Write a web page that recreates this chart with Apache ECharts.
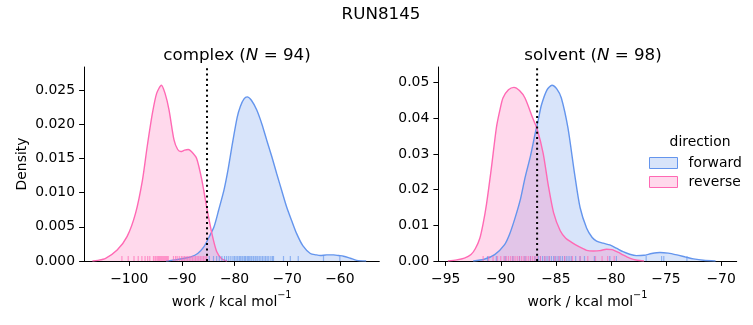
<!DOCTYPE html>
<html><head><meta charset="utf-8">
<script src="https://cdn.jsdelivr.net/npm/echarts@6/dist/echarts.min.js"></script>
<style>html,body{margin:0;padding:0;background:#fff}#c{width:753px;height:325px}</style>
</head><body><div id="c"></div>
<script>
// ---- data ----
const suptitle = 'RUN8145';
const complexN = 94;
const solventN = 98;
const directions = ['forward', 'reverse'];

// KDE curves: [work, density]
const complexForwardKde = [[-93,0],[-91,0.0002],[-89.5,0.0004],[-88.3,0.0006],[-87,0.0011],[-85.8,0.0021],[-84.9,0.0034],[-83.9,0.0050],[-83,0.0075],[-82,0.0104],[-81.2,0.0135],[-80.4,0.0172],[-79.5,0.0210],[-78.9,0.0226],[-78.2,0.0237],[-77.6,0.0240],[-76.8,0.0235],[-75.8,0.0221],[-74.8,0.0200],[-73.9,0.0177],[-72.9,0.0152],[-72.0,0.0128],[-71.0,0.0102],[-70.1,0.0079],[-69.1,0.0058],[-68.2,0.0040],[-67,0.0022],[-65.6,0.0011],[-64.5,0.0009],[-63.7,0.0008],[-62.5,0.0009],[-61.2,0.0009],[-60.2,0.0008],[-59.3,0.0007],[-58,0.0004],[-56.8,0.0001],[-55,0]];
const complexReverseKde = [[-107,0],[-106,0.0001],[-104.5,0.0004],[-102.3,0.0016],[-100.4,0.0036],[-98.8,0.0070],[-97.5,0.0118],[-96.6,0.0167],[-95.6,0.0216],[-94.8,0.0245],[-93.9,0.0257],[-93.2,0.0245],[-92.45,0.0221],[-91.5,0.0177],[-90.8,0.0163],[-90.2,0.0160],[-89.5,0.0162],[-88.8,0.0163],[-88.2,0.0160],[-87.2,0.0150],[-86.2,0.0118],[-85.3,0.0079],[-84.3,0.0040],[-83.4,0.0014],[-82.4,0.0003],[-81.4,0]];
const solventForwardKde = [[-92.5,0],[-91.5,0.0005],[-90.55,0.0018],[-89.65,0.0046],[-89.2,0.0075],[-88.7,0.0121],[-88.2,0.0175],[-87.8,0.0233],[-87.3,0.0295],[-86.9,0.0354],[-86.6,0.0395],[-86.3,0.0438],[-85.8,0.0480],[-85.35,0.0493],[-84.9,0.0482],[-84.5,0.0457],[-83.9,0.0373],[-83.3,0.0245],[-82.8,0.0150],[-82.2,0.0092],[-81.7,0.0066],[-81.3,0.0056],[-80.7,0.0050],[-80.1,0.0045],[-79.5,0.0036],[-78.9,0.0026],[-78.3,0.0019],[-77.7,0.0015],[-77.0,0.0016],[-76.3,0.0021],[-75.55,0.0024],[-74.8,0.0022],[-74.0,0.0017],[-73.2,0.0011],[-72.5,0.0006],[-71.6,0.0002],[-70.5,0]];
const solventReverseKde = [[-94.8,0],[-94,0.0003],[-93.3,0.0008],[-92.7,0.0018],[-92.3,0.0035],[-91.9,0.0064],[-91.6,0.0105],[-91.3,0.0158],[-90.85,0.0261],[-90.4,0.0373],[-90.1,0.0420],[-89.8,0.0457],[-89.3,0.0480],[-88.8,0.0487],[-88.3,0.0478],[-87.8,0.0457],[-87.1,0.0401],[-86.7,0.0370],[-86.15,0.0302],[-85.7,0.0215],[-85.2,0.0135],[-84.6,0.0085],[-84.1,0.0064],[-83.6,0.0053],[-82.9,0.0040],[-82.2,0.0030],[-81.6,0.0028],[-81.0,0.0029],[-80.4,0.0033],[-79.9,0.0032],[-79.3,0.0024],[-78.9,0.0017],[-78.3,0.0008],[-77.6,0.0002],[-77,0]];

// rug (individual work values)
const complexForwardRug = [-84.8,-84.0,-83.4,-82.9,-82.4,-81.9,-81.5,-81.1,-80.7,-80.3,-80.0,-79.7,-79.4,-79.1,-78.9,-78.6,-78.4,-78.1,-77.9,-77.6,-77.4,-77.2,-76.9,-76.7,-76.4,-76.1,-75.9,-75.6,-75.3,-75.0,-74.7,-74.4,-74.1,-73.8,-73.5,-73.1,-72.8,-72.6,-70.7,-69.4,-67.9,-63.1,-60.0];
const complexReverseRug = [-101.4,-100.2,-99.1,-98.3,-97.6,-97.0,-96.5,-96.1,-95.4,-95.1,-94.9,-94.6,-94.4,-94.2,-94.0,-93.8,-93.6,-93.4,-93.2,-93.0,-92.8,-92.6,-91.6,-91.2,-90.9,-90.5,-90.1,-89.8,-89.5,-89.2,-88.9,-88.6,-88.3,-88.0,-87.7,-87.4,-87.1,-86.8,-86.5,-86.2,-85.9,-85.6,-85.3];
const solventForwardRug = [-91.2,-90.4,-89.6,-88.9,-88.3,-87.8,-87.3,-86.9,-86.6,-86.4,-86.2,-86.0,-85.8,-85.6,-85.4,-85.2,-85.0,-84.8,-84.6,-84.4,-84.2,-84.0,-83.8,-83.6,-83.2,-82.8,-82.4,-81.5,-80.1,-79.5,-76.8,-75.4,-75.2,-73.1];
const solventReverseRug = [-91.6,-91.1,-90.7,-90.3,-90.0,-89.7,-89.5,-89.3,-89.1,-88.9,-88.7,-88.5,-88.3,-88.1,-87.9,-87.7,-87.5,-87.3,-87.1,-86.9,-86.7,-86.4,-86.0,-85.6,-85.1,-84.7,-84.2,-83.5,-82.8,-82.1,-81.4,-80.8,-80.3,-79.7];

// vertical dotted markers
const complexMarker = -85.23;
const solventMarker = -86.7;

// ticks
const complexXTicks = [-100,-90,-80,-70,-60];
const complexYTicks = [0,0.005,0.010,0.015,0.020,0.025];
const solventXTicks = [-95,-90,-85,-80,-75,-70];
const solventYTicks = [0,0.01,0.02,0.03,0.04,0.05];

// ---- drawing ----
const FONT = 'DejaVu Sans';
const BLUE = '#6495ED', PINK = '#FF69B4';
const minus = v => String(v).replace('-', '\u2212');
const chart = echarts.init(document.getElementById('c'), null, {renderer: 'canvas'});

const limits = {
  complex: {x: [-108.6, -52.5], y: [0, 0.02836]},
  solvent: {x: [-95.67, -68.58], y: [0, 0.0544]}
};

function xAxis(idx, lim, ticks) {
  return {
    type: 'value', gridIndex: idx, min: lim[0], max: lim[1],
    axisLine: {show: true, onZero: false, lineStyle: {color: '#000', width: 1}},
    axisTick: {show: true, customValues: ticks, length: 4.9, lineStyle: {color: '#000', width: 1}},
    axisLabel: {customValues: ticks, formatter: minus, fontFamily: FONT, fontSize: 13.9, color: '#000', margin: 11},
    splitLine: {show: false},
    name: '{a|work / kcal mol}{s|\u22121}', nameLocation: 'middle', nameGap: 26,
    nameTextStyle: {rich: {
      a: {fontFamily: FONT, fontSize: 13.9, color: '#000', lineHeight: 18, verticalAlign: 'bottom'},
      s: {fontFamily: FONT, fontSize: 9.7, color: '#000', lineHeight: 18, verticalAlign: 'top'}
    }}
  };
}
function yAxis(idx, lim, ticks, dec, withName) {
  const a = {
    type: 'value', gridIndex: idx, min: lim[0], max: lim[1],
    axisLine: {show: true, lineStyle: {color: '#000', width: 1}},
    axisTick: {show: true, customValues: ticks, length: 4.9, lineStyle: {color: '#000', width: 1}},
    axisLabel: {customValues: ticks, formatter: v => v.toFixed(dec), fontFamily: FONT, fontSize: 13.9, color: '#000', margin: 9},
    splitLine: {show: false}
  };
  if (withName) {
    a.name = 'Density'; a.nameLocation = 'middle'; a.nameGap = 55;
    a.nameTextStyle = {fontFamily: FONT, fontSize: 13.9, color: '#000'};
  }
  return a;
}
function kde(name, data, color, idx) {
  return {
    type: 'line', name: name, xAxisIndex: idx, yAxisIndex: idx, data: data,
    showSymbol: false, symbol: 'none', smooth: 0.25,
    lineStyle: {color: color, width: 1.4}, itemStyle: {color: color},
    areaStyle: {color: color, opacity: 0.25}, z: 2, silent: true
  };
}
function rug(name, values, color, idx) {
  return {
    type: 'scatter', name: name, xAxisIndex: idx, yAxisIndex: idx,
    data: values.map(v => [v, 0]), symbol: 'rect', symbolSize: [1.2, 5], symbolOffset: [0, -2.5],
    itemStyle: {color: color, opacity: 0.65}, z: 3, silent: true, clip: false
  };
}
function marker(v, lim, idx) {
  return {
    type: 'line', name: 'marker' + idx, xAxisIndex: idx, yAxisIndex: idx,
    data: [[v, lim[0]], [v, lim[1]]], symbol: 'none',
    lineStyle: {color: '#000', width: 2, type: [2, 3.3]}, z: 5, silent: true
  };
}
const titleRich = {
  a: {fontFamily: FONT, fontSize: 16.7, color: '#000', fontWeight: 'normal'},
  i: {fontFamily: FONT, fontSize: 16.7, color: '#000', fontWeight: 'normal', fontStyle: 'italic'}
};

chart.setOption({
  animation: false,
  backgroundColor: '#fff',
  title: [
    {text: suptitle, left: 376, top: 1, textAlign: 'center', textStyle: {fontFamily: FONT, fontSize: 16.7, fontWeight: 'normal', color: '#000'}},
    {text: '{a|complex (}{i|N}{a| = ' + complexN + ')}', left: 232, top: 42, textAlign: 'center', textStyle: {fontWeight: 'normal', rich: titleRich}},
    {text: '{a|solvent (}{i|N}{a| = ' + solventN + ')}', left: 588, top: 42, textAlign: 'center', textStyle: {fontWeight: 'normal', rich: titleRich}},
    {text: 'direction', left: 695, top: 130, textAlign: 'center', textStyle: {fontFamily: FONT, fontSize: 13.9, fontWeight: 'normal', color: '#000'}}
  ],
  legend: {
    orient: 'vertical', left: 649, top: 156, padding: 0, itemWidth: 28, itemHeight: 11, itemGap: 5,
    textStyle: {fontFamily: FONT, fontSize: 13.9, color: '#000', lineHeight: 14, padding: [0,0,0,6]},
    data: [
      {name: directions[0], icon: 'rect', itemStyle: {color: 'rgba(100,149,237,0.25)', borderColor: BLUE, borderWidth: 1}},
      {name: directions[1], icon: 'rect', itemStyle: {color: 'rgba(255,105,180,0.25)', borderColor: PINK, borderWidth: 1}}
    ],
    selectedMode: false
  },
  grid: [
    {left: 84, top: 67, width: 295.3, height: 194},
    {left: 438.3, top: 67, width: 298.4, height: 194}
  ],
  xAxis: [xAxis(0, limits.complex.x, complexXTicks), xAxis(1, limits.solvent.x, solventXTicks)],
  yAxis: [yAxis(0, limits.complex.y, complexYTicks, 3, true), yAxis(1, limits.solvent.y, solventYTicks, 2, false)],
  series: [
    kde(directions[0], complexForwardKde, BLUE, 0),
    kde(directions[1], complexReverseKde, PINK, 0),
    kde(directions[0], solventForwardKde, BLUE, 1),
    kde(directions[1], solventReverseKde, PINK, 1),
    rug(directions[0], complexForwardRug, BLUE, 0),
    rug(directions[1], complexReverseRug, PINK, 0),
    rug(directions[0], solventForwardRug, BLUE, 1),
    rug(directions[1], solventReverseRug, PINK, 1),
    marker(complexMarker, limits.complex.y, 0),
    marker(solventMarker, limits.solvent.y, 1)
  ]
});
</script>
</body></html>
